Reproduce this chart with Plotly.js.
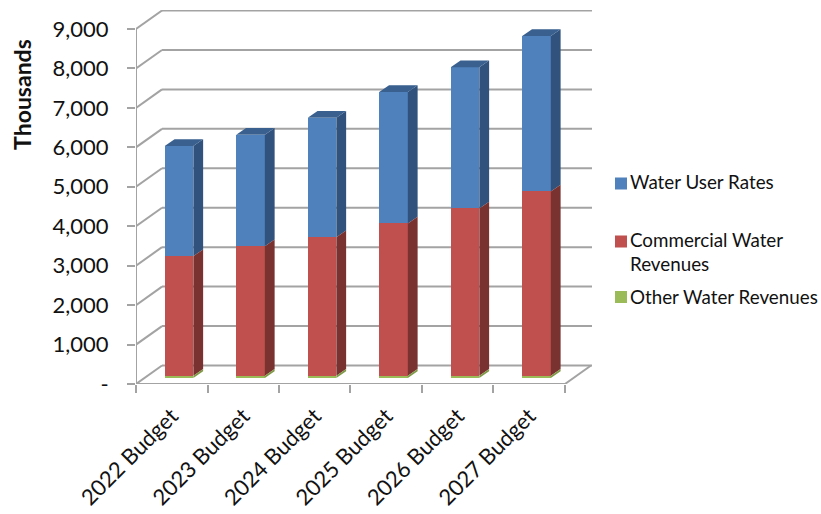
<!DOCTYPE html>
<html><head><meta charset="utf-8">
<script src="https://cdn.plot.ly/plotly-3.0.1.min.js"></script>
<style>html,body{margin:0;padding:0;background:#fff}</style></head>
<body><div id="chart" style="width:821px;height:514px"></div>
<script>
const categories = ['2022 Budget','2023 Budget','2024 Budget','2025 Budget','2026 Budget','2027 Budget'];
const otherRevenues = [60,60,60,60,60,60];
const commercialRevenues = [3030,3280,3510,3860,4240,4670];
const userRates = [2790,2830,3030,3330,3580,3940];
const yTicks = [0,1000,2000,3000,4000,5000,6000,7000,8000,9000];
const yTickText = ['-','1,000','2,000','3,000','4,000','5,000','6,000','7,000','8,000','9,000'];

// pseudo-3D projection, in axis units
const wallDX = 0.364, wallDY = 469;   // floor depth
const barOffX = 0.102, barBase = 152; // bar front plane
const barW = 0.4, barDX = 0.137, barDY = 170; // bar width and depth
const xMax = 6.378, yMax = 9482;
const nCat = categories.length;
const centers = categories.map((c,i)=>i+0.5+barOffX);

function cum(arrs){return arrs[0].map((_,i)=>arrs.reduce((s,a)=>s+a[i],barBase));}
const base0 = otherRevenues.map(()=>barBase);
const base1 = cum([otherRevenues]);
const base2 = cum([otherRevenues,commercialRevenues]);
const top2  = cum([otherRevenues,commercialRevenues,userRates]);

function barTrace(name,vals,base,color,group){
  return {type:'bar',name:name,x:centers,y:vals,base:base,width:barW,
    marker:{color:color,line:{width:0}},legendgroup:group,
    hovertemplate:'%{text}<br>'+name+': %{y:,}<extra></extra>',text:categories,textposition:'none'};
}
function sideFace(base,vals,color){
  const xs=[],ys=[];
  base.forEach((b,i)=>{
    const r=centers[i]+barW/2, t=b+vals[i];
    xs.push(r,r+barDX,r+barDX,r,r,null);
    ys.push(b,b+barDY,t+barDY,t,b,null);
  });
  return {type:'scatter',mode:'lines',x:xs,y:ys,fill:'toself',fillcolor:color,
    line:{width:0,color:color},hoverinfo:'skip',showlegend:false};
}
function topFace(tops,color){
  const xs=[],ys=[];
  tops.forEach((t,i)=>{
    const l=centers[i]-barW/2, r=centers[i]+barW/2;
    xs.push(l,r,r+barDX,l+barDX,l,null);
    ys.push(t,t,t+barDY,t+barDY,t,null);
  });
  return {type:'scatter',mode:'lines',x:xs,y:ys,fill:'toself',fillcolor:color,
    line:{width:0,color:color},hoverinfo:'skip',showlegend:false};
}
const traces = [
  barTrace('Water User Rates<br>&nbsp;',userRates,base2,'#4f81bd','a'),
  barTrace('Commercial Water<br>Revenues',commercialRevenues,base1,'#c0504d','b'),
  barTrace('Other Water Revenues',otherRevenues,base0,'#9bbb59','c'),
  sideFace(base2,userRates,'#30527d'),
  sideFace(base1,commercialRevenues,'#7a3230'),
  sideFace(base0,otherRevenues,'#7f9a47'),
  topFace(top2,'#39608f')
];

const gridColor='#a3a3a3';
const ln=(x0,y0,x1,y1)=>({type:'line',xref:'x',yref:'y',x0,y0,x1,y1,layer:'below',line:{color:gridColor,width:2}});
const shapes=[];
yTicks.forEach(v=>{
  shapes.push(ln(0,v,wallDX,v+wallDY));
  shapes.push(ln(wallDX,v+wallDY,xMax,v+wallDY));
});
shapes.push(ln(0,0,0,9000));
shapes.push(ln(0,0,nCat,0));
shapes.push(ln(nCat,0,nCat+wallDX,wallDY));

const fontFam='Lato, "Open Sans", sans-serif';
const layout={
  width:821,height:514,margin:{l:136,r:229,t:10,b:130,autoexpand:false},
  paper_bgcolor:'#fff',plot_bgcolor:'#fff',
  barmode:'overlay',bargap:0,
  font:{family:fontFam,color:'#111'},
  xaxis:{range:[0,xMax],showgrid:false,zeroline:false,showline:false,
    tickmode:'array',tickvals:categories.map((c,i)=>i+0.5),ticktext:categories,
    tickangle:-45,ticks:'',tickfont:{size:22,family:fontFam},ticklabelstandoff:14,
    minor:{tickmode:'array',tickvals:[0,1,2,3,4,5,6],ticks:'outside',ticklen:8,tickwidth:2,tickcolor:gridColor,showgrid:false}},
  yaxis:{range:[0,yMax],showgrid:false,zeroline:false,showline:false,
    tickmode:'array',tickvals:yTicks,ticktext:yTickText,ticks:'outside',ticklen:8,tickwidth:2,tickcolor:gridColor,
    tickfont:{size:22,family:fontFam},ticklabelstandoff:14},
  shapes:shapes,
  annotations:[{text:'<b>Thousands</b>',xref:'paper',yref:'paper',x:-0.25,y:0.773,textangle:-90,showarrow:false,
    xanchor:'center',yanchor:'middle',font:{size:23,family:fontFam,color:'#111'}}],
  legend:{x:0.9956,y:0.592,xanchor:'left',yanchor:'top',traceorder:'grouped',tracegroupgap:6,
    font:{size:18.8,family:fontFam,color:'#111'},bgcolor:'rgba(0,0,0,0)'},
  showlegend:true
};
Plotly.newPlot('chart',traces,layout,{displayModeBar:false,staticPlot:true}).then(gd=>{
  // Align each swatch with the first line of its entry, beside the text
  const lift=[-10,-10,0];
  gd.querySelectorAll('.legendsymbols').forEach((s,i)=>s.setAttribute('transform','translate(11,'+lift[i]+')'));
});
</script></body></html>
